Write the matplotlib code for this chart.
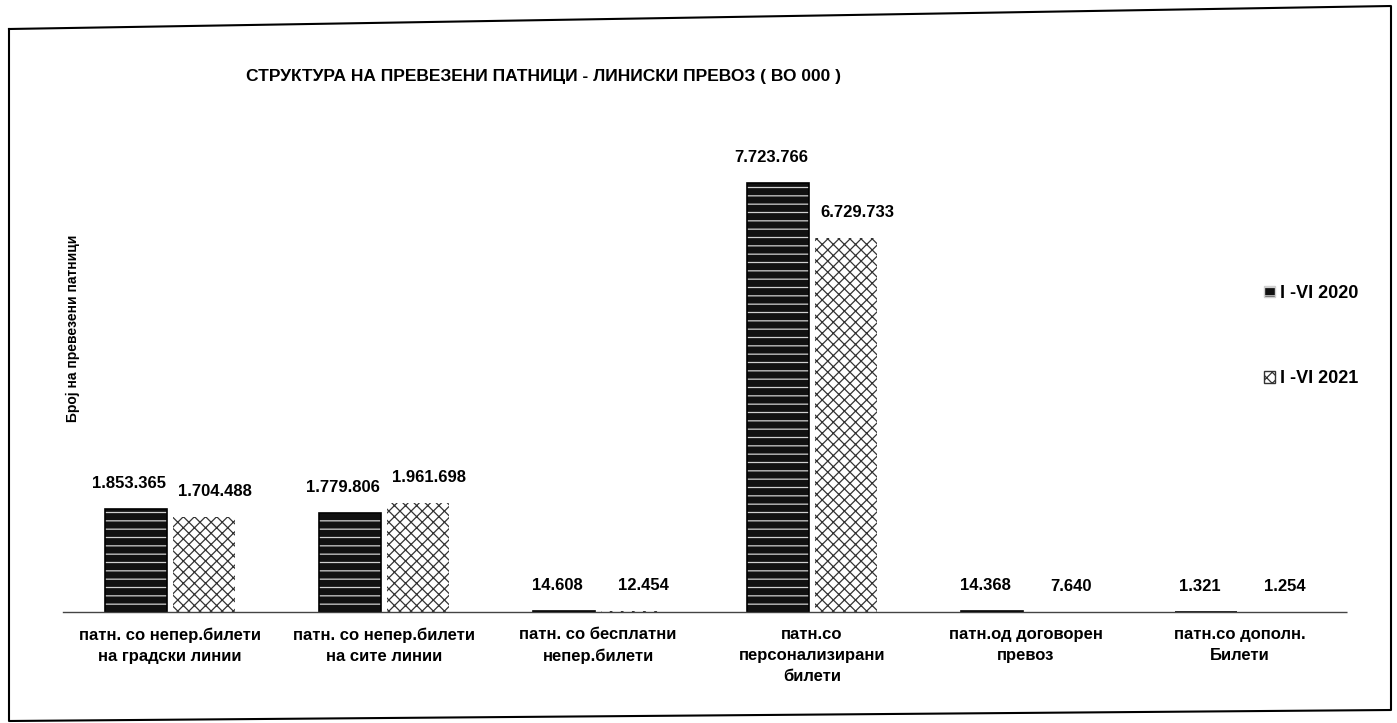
import matplotlib
matplotlib.use("Agg")
import matplotlib.pyplot as plt
from matplotlib.patches import Patch
from matplotlib.lines import Line2D
import numpy as np

categories = [
    "патн. со непер.билети\nна градски линии",
    "патн. со непер.билети\nна сите линии",
    "патн. со бесплатни\nнепер.билети",
    "патн.со\nперсонализирани\nбилети",
    "патн.од договорен\nпревоз",
    "патн.со дополн.\nБилети",
]
series_names = ["I -VI 2020", "I -VI 2021"]
values_2020 = [1853365, 1779806, 14608, 7723766, 14368, 1321]
values_2021 = [1704488, 1961698, 12454, 6729733, 7640, 1254]
labels_2020 = ["1.853.365", "1.779.806", "14.608", "7.723.766", "14.368", "1.321"]
labels_2021 = ["1.704.488", "1.961.698", "12.454", "6.729.733", "7.640", "1.254"]

title = "СТРУКТУРА НА ПРЕВЕЗЕНИ ПАТНИЦИ - ЛИНИСКИ ПРЕВОЗ ( ВО 000 )"
ylabel = "Број на превезени патници"

plt.rcParams['font.family'] = ['Liberation Sans', 'DejaVu Sans']
plt.rcParams['hatch.linewidth'] = 0.9

W, H = 1397, 723
fig = plt.figure(figsize=(W / 100, H / 100), dpi=100)
ax = fig.add_axes([63 / W, 1 - 612 / H, 1284 / W, 500 / H])

x = np.arange(len(categories))
bw = 0.29
off = 0.16
b1 = ax.bar(x - off, values_2020, bw, facecolor="#111111", edgecolor="#d0d0d0",
            hatch="--", linewidth=0)
b2 = ax.bar(x + off, values_2021, bw, facecolor="white", edgecolor="#333333",
            hatch="xxx", linewidth=0)
ax.bar(x - off, values_2020, bw, facecolor="none", edgecolor="black", linewidth=1.2)

for rect, lab in zip(b1, labels_2020):
    ax.annotate(lab, (rect.get_x() + rect.get_width() / 2 - 0.03, rect.get_height()),
                xytext=(0, 13), textcoords="offset points", ha="center", va="bottom",
                fontsize=12, fontweight="bold")
for rect, lab in zip(b2, labels_2021):
    ax.annotate(lab, (rect.get_x() + rect.get_width() / 2 + 0.05, rect.get_height()),
                xytext=(0, 13), textcoords="offset points", ha="center", va="bottom",
                fontsize=12, fontweight="bold")

ax.set_xlim(-0.5, len(categories) - 0.5)
ax.set_ylim(0, 9e6)
ax.set_xticks(x)
ax.set_xticklabels(categories, fontsize=12, fontweight="bold", linespacing=1.5)
ax.tick_params(axis="x", length=0, pad=11)
ax.set_yticks([])
for s in ["top", "right", "left"]:
    ax.spines[s].set_visible(False)
ax.spines["bottom"].set_color("#444444")
ax.spines["bottom"].set_linewidth(1.0)
ax.spines["bottom"].set_linestyle((0, (4, 1)))

fig.text(73 / W, 1 - 328 / H, ylabel, rotation=90, ha="center", va="center",
         fontsize=10, fontweight="bold")
fig.text(543 / W, 1 - 76 / H, title, ha="center", va="center",
         fontsize=12.5, fontweight="bold")

handles = [Patch(facecolor="#111111", edgecolor="#d0d0d0", hatch="--"),
           Patch(facecolor="white", edgecolor="#333333", hatch="xxx")]
fig.legend(handles, series_names, loc="center left",
           bbox_to_anchor=(1248 / W, 1 - 336 / H), frameon=False,
           prop={"size": 13, "weight": "bold"}, labelspacing=3.8,
           handlelength=0.6, handleheight=0.6, handletextpad=0.3)

fx = [9 / W, 1391 / W, 1391 / W, 9 / W, 9 / W]
fy = [1 - 29 / H, 1 - 6 / H, 1 - 710 / H, 1 - 721 / H, 1 - 29 / H]
fig.add_artist(Line2D(fx, fy, transform=fig.transFigure, color="black", linewidth=1.5))

fig.savefig("out.png", dpi=100)
